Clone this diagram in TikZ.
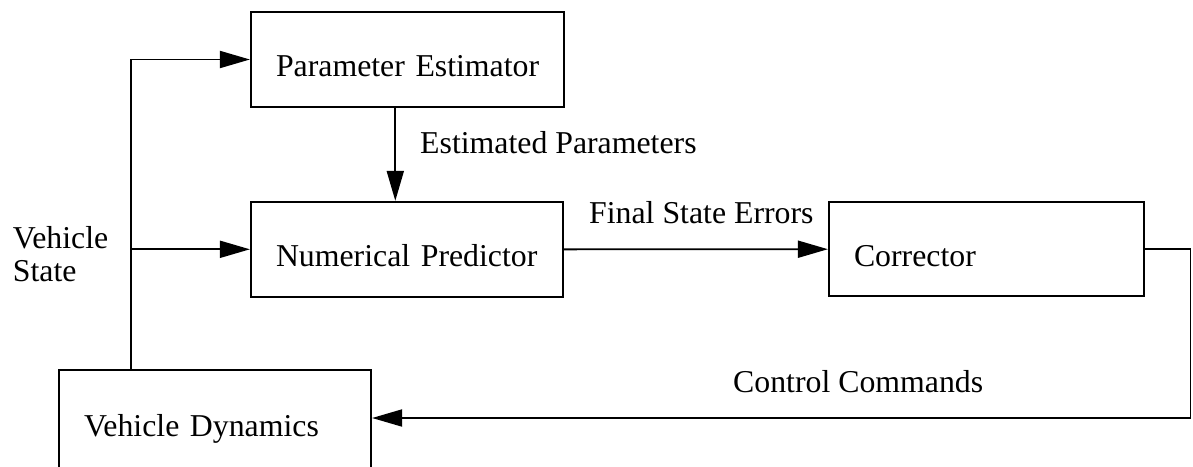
\documentclass[tikz,border=0pt]{standalone}
\usepackage{fontspec}
\setmainfont{Liberation Serif}
\usetikzlibrary{arrows.meta}

\begin{document}
\begin{tikzpicture}[x=1pt, y=-1pt,
  every node/.style={font=\fontsize{31.8}{33.4}\selectfont},
  block/.style={draw, line width=2.2pt, rectangle, inner xsep=25pt, inner ysep=0pt,
    text height=40pt, text depth=6pt, align=left,
    execute at begin node={\hyphenpenalty=10000\exhyphenpenalty=10000}},
  tag/.style={inner sep=0pt, anchor=base west},
  wire/.style={line width=1.9pt},
  flow/.style={wire, -{Triangle[length=30pt, width=17pt]}}
]
  % page frame
  \useasboundingbox (0,0) rectangle (1193,466);

  % blocks
  \node[block, text width=263pt, minimum height=94.4pt] (pe)   at (407.5,59.5)  {Parameter~Estimator};
  \node[block, text width=262pt, minimum height=94.7pt] (np)   at (407,249.3)   {Numerical~Predictor};
  \node[block, text width=265pt, minimum height=94.3pt] (corr) at (986.5,249.2) {Corrector};
  \node[block, text width=262pt, minimum height=100pt, text height=40pt, text depth=6.6pt] (vd) at (215,420) {Vehicle~Dynamics};

  % routing points
  \coordinate (tap)  at (130.7,249.3);
  \coordinate (estx) at (395.3,0);
  \coordinate (ret)  at (1190.5,418);

  % vehicle state feedback to estimator and predictor
  \draw[flow] (vd.north -| tap) |- (pe.west);
  \draw[flow] (tap) -- (np.west);

  % estimated parameters
  \draw[flow] (pe.south -| estx) -- (np.north -| estx);

  % final state errors
  \draw[flow] (np.east) -- (corr.west);

  % control commands back to the vehicle
  \draw[flow] (corr.east) -| (ret) -- (vd.east |- ret);

  % signal labels
  \node[tag] (lep) at (420,153.3)   {Estimated Parameters};
  \node[tag] (lfs) at (589,223.3)   {Final State Errors};
  \node[tag] (lcc) at (733,392.7)   {Control Commands};
  \node[tag] (lv1) at (12.7,248.3)  {Vehicle};
  \node[tag] (lv2) at (12.7,281.7)  {State};
\end{tikzpicture}
\end{document}
